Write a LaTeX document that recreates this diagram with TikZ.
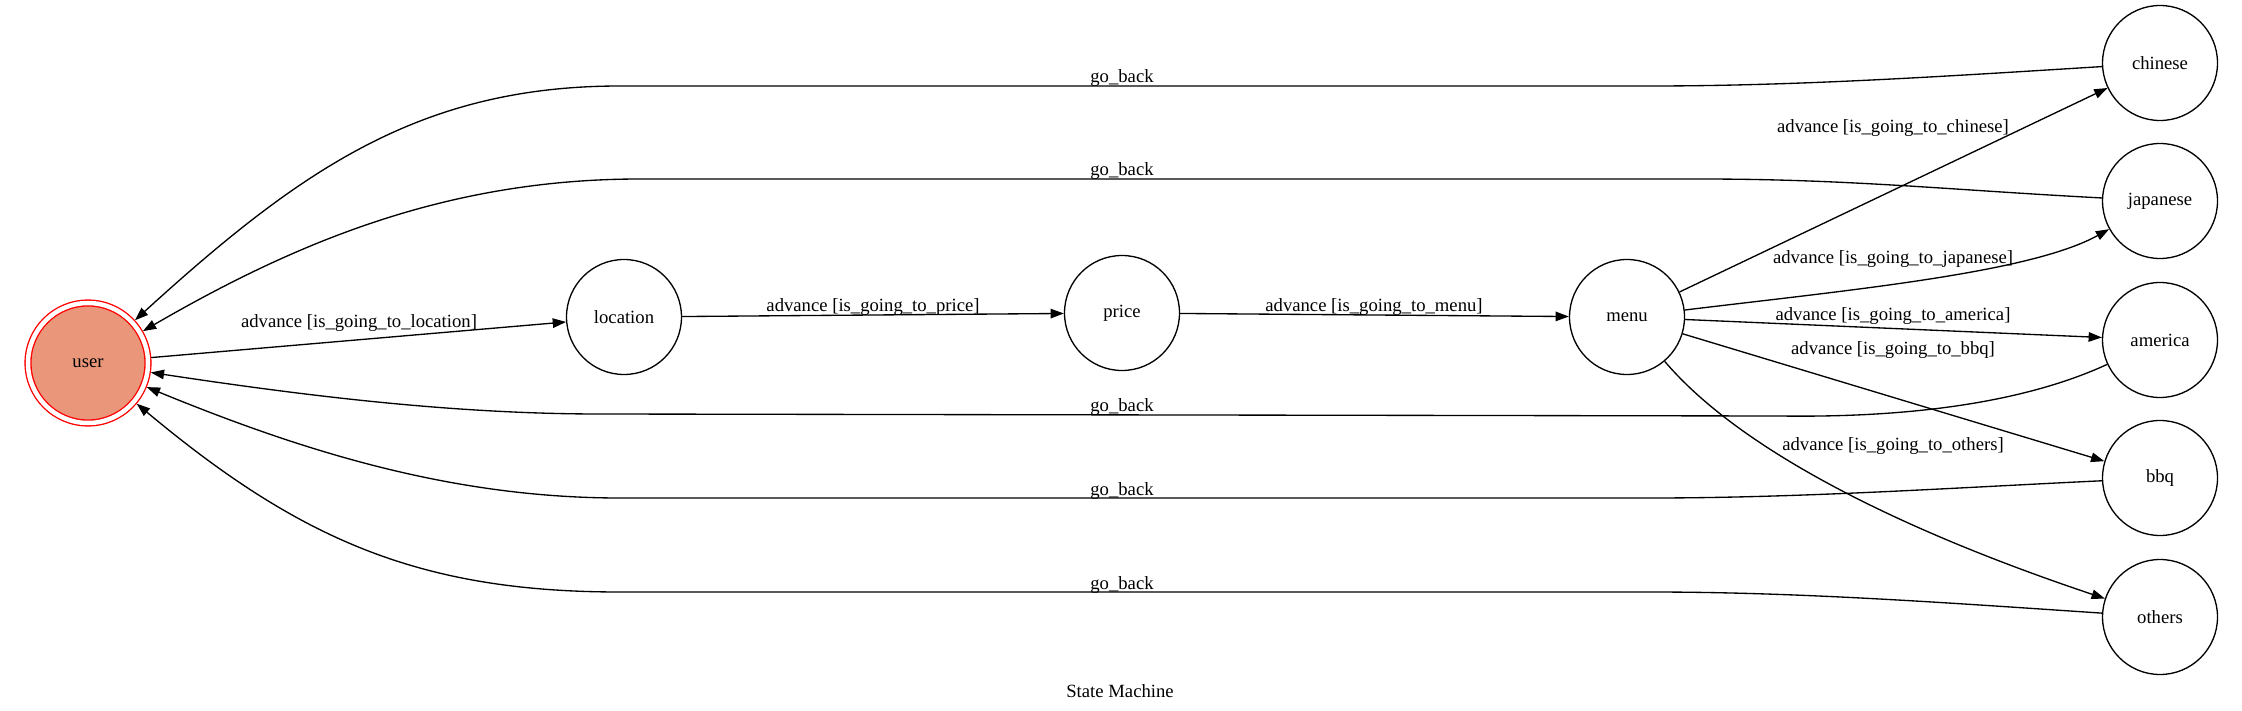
\documentclass[tikz,border=0pt]{standalone}
\usepackage{fontspec}
\setmainfont{Liberation Serif}
\usetikzlibrary{arrows.meta,positioning}
\definecolor{usersalmon}{RGB}{233,150,122}

\begin{document}
\begin{tikzpicture}[x=1pt, y=-1pt, line width=1.33pt, >={Triangle[length=13.3pt,width=9.5pt]},
    every node/.style={font=\fontsize{18.67}{22}\selectfont},
    state/.style={circle, draw, minimum size=115pt, inner sep=0pt},
    startstate/.style={circle, draw=red, fill=usersalmon, double=white, double distance=4.5pt,
      minimum size=120pt, inner sep=0pt, outer sep=3.5pt},
    lbl/.style={anchor=base, inner sep=0pt}]
    \useasboundingbox (0,0) rectangle (2242,711);

    % States
    \node[startstate] (user) at (88,363) {user};
    \node[state] (location) at (624,317) {location};
    \node[state] (price) at (1122,313) {price};
    \node[state] (menu) at (1627,317) {menu};
    \node[state] (chinese) at (2160,63) {chinese};
    \node[state] (japanese) at (2160,201) {japanese};
    \node[state] (america) at (2160,340) {america};
    \node[state] (bbq) at (2160,478) {bbq};
    \node[state] (others) at (2160,617) {others};

    % --- advance ---
    \draw[->] (user) -- (location);
    \draw[->] (location) -- (price);
    \draw[->] (price) -- (menu);
    \draw[->] (menu) -- (chinese);
    \draw[->] (menu) .. controls (1850,290) and (2030,273) .. (japanese);
    \draw[->] (menu) -- (america);
    \draw[->] (menu) -- (bbq);
    \draw[->] (menu) .. controls (1740,450) and (1900,530) .. (others);

    \node[lbl] (lloc) at (359,327) {advance [is\_going\_to\_location]};
    \node[lbl] (lprice) at (873,311) {advance [is\_going\_to\_price]};
    \node[lbl] (lmenu) at (1374,311) {advance [is\_going\_to\_menu]};
    \node[lbl] (lchi) at (1893,133) {advance [is\_going\_to\_chinese]};
    \node[lbl] (ljap) at (1893,263) {advance [is\_going\_to\_japanese]};
    \node[lbl] (lame) at (1893,320) {advance [is\_going\_to\_america]};
    \node[lbl] (lbbq) at (1893,354) {advance [is\_going\_to\_bbq]};
    \node[lbl] (loth) at (1893,450) {advance [is\_going\_to\_others]};

    % --- go_back ---
    \draw[->] (chinese) .. controls (1950,76) and (1800,86) .. (1650,86) -- (620,86)
      .. controls (420,86) and (300,170) .. (user);
    \draw[->] (japanese) .. controls (1950,190) and (1850,179) .. (1700,179) -- (640,179)
      .. controls (450,179) and (300,240) .. (user);
    \draw[->] (america) .. controls (2030,400) and (1920,418) .. (1780,416) -- (600,414)
      .. controls (450,414) and (300,395) .. (user);
    \draw[->] (bbq) .. controls (1950,488) and (1800,498) .. (1650,498) -- (620,498)
      .. controls (450,498) and (300,450) .. (user);
    \draw[->] (others) .. controls (1950,603) and (1800,592) .. (1650,592) -- (620,592)
      .. controls (420,592) and (300,540) .. (user);

    \node[lbl] (gchi) at (1122,83) {go\_back};
    \node[lbl] (gjap) at (1122,176) {go\_back};
    \node[lbl] (game) at (1122,411) {go\_back};
    \node[lbl] (gbbq) at (1122,495) {go\_back};
    \node[lbl] (goth) at (1122,589) {go\_back};

    % Title
    \node[lbl] (title) at (1120,697) {State Machine};
\end{tikzpicture}
\end{document}
